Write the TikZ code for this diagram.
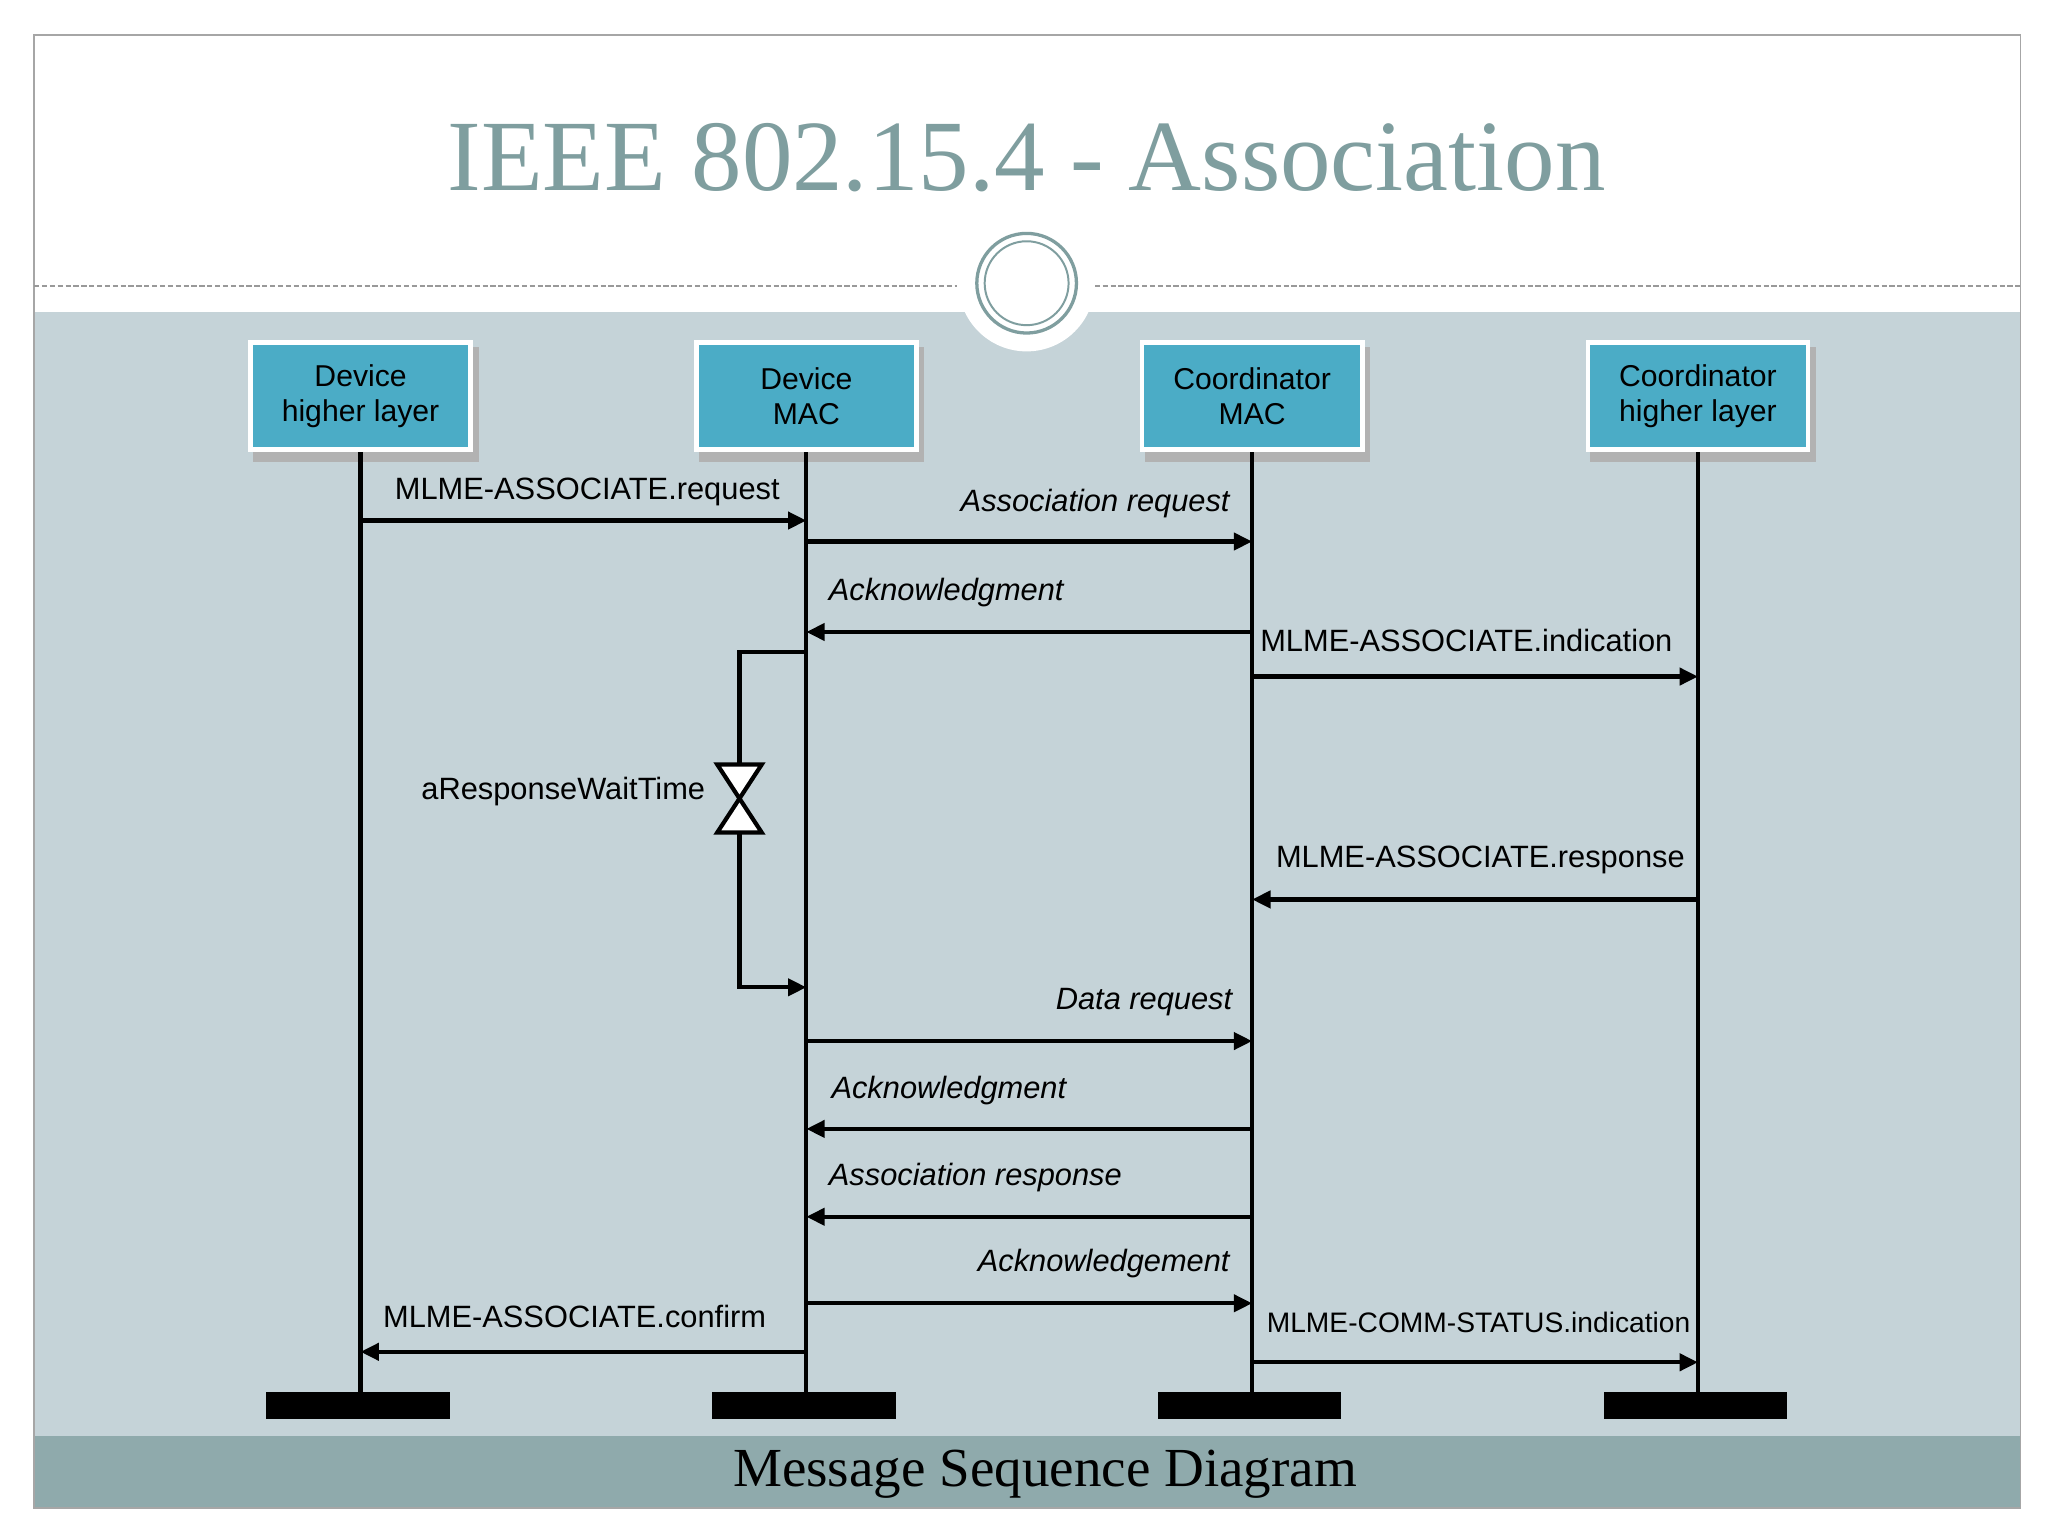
\documentclass[tikz,border=0pt]{standalone}
\usepackage{fontspec}
\setmainfont{Liberation Sans}
\newfontfamily\ser{Liberation Serif}
\usetikzlibrary{arrows.meta}
\definecolor{bg}{HTML}{C5D3D8}
\definecolor{band}{HTML}{8FAAAC}
\definecolor{ttl}{HTML}{7F9E9F}
\definecolor{boxc}{HTML}{4BACC6}
\begin{document}
\begin{tikzpicture}[x=1pt,y=-1pt,
  box/.style={draw=white,line width=3.5pt,fill=boxc,minimum width=168pt,minimum height=82pt,align=center,font=\fontsize{23}{27}\selectfont,inner sep=2pt},
  msg/.style={line width=3.2pt,-{Triangle[length=14pt,width=13pt]}},
  life/.style={line width=3.2pt},
  lab/.style={font=\fontsize{23.5}{27}\selectfont,inner sep=0pt},
  ital/.style={lab,font=\fontsize{23.5}{27}\selectfont\itshape},
  bar/.style={fill=black,minimum width=140pt,minimum height=20pt,inner sep=0pt}]
\useasboundingbox (0,0) rectangle (1562,1171);
\fill[white] (0,0) rectangle (1562,1171);
\fill[bg] (26,238) rectangle (1541,1095);
\fill[band] (26,1095) rectangle (1541,1150);
\draw[gray!70,line width=1.5pt] (26,27) rectangle (1541,1150);
\node[font=\ser\fontsize{77}{86}\selectfont,text=ttl] (title) at (783,120) {IEEE 802.15.4 - Association};
\draw[gray!80,dash pattern=on 4pt off 2pt,line width=1.2pt] (26,218) -- (730,218) (835,218) -- (1541,218);
\node[circle,fill=white,minimum size=104pt,inner sep=0pt] (ring) at (783,216) {};
\draw[ttl,line width=2.5pt] (ring.center) circle (38);
\draw[ttl,line width=1.5pt] (ring.center) circle (32);
\node[font=\ser\fontsize{42}{46}\selectfont] (foot) at (797,1124) {Message Sequence Diagram};
% boxes
\foreach \n/\x/\t in {a/275/{Device\\higher layer},b/615/{Device\\MAC},c/955/{Coordinator\\MAC},d/1295/{Coordinator\\higher layer}}{
  \fill[gray!60] ({\x-82},265) rectangle ({\x+90},352);
  \node[box] (\n) at (\x,302) {\t};
  \node[bar] (\n bar) at ({\x-2},1072) {};
  \draw[life] (\n.south) -- (\n bar.north -| \n.south);
}
% lifeline points
\foreach \n/\x in {a/275,b/615,c/955,d/1295}{
  \foreach \y in {397,413,482,497,516,686,753,794,861,928,994,1031,1039}{
    \coordinate (\n\y) at (\x,\y);}}
\draw[msg] (a397) -- (b397);
\node[lab,anchor=south west] (l1) at (301,386) {MLME-ASSOCIATE.request};
\draw[msg] (b413) -- (c413);
\node[ital,anchor=south east] (l2) at (938,395) {Association request};
\draw[msg] (c482) -- (b482);
\node[ital,anchor=south west] (l3) at (632,463) {Acknowledgment};
\draw[msg] (c516) -- (d516);
\node[lab,anchor=south west] (l4) at (961,497) {MLME-ASSOCIATE.indication};
% timer
\coordinate (t1) at (564,497);
\coordinate (t2) at (564,583);
\coordinate (t3) at (564,635);
\coordinate (t4) at (564,753);
\draw[line width=3.2pt] (b497) -- (t1) -- (t2);
\draw[line width=3.2pt,fill=white] ([xshift=-17pt]t2) -- ([xshift=17pt]t2) -- ([xshift=-17pt]t3) -- ([xshift=17pt]t3) -- cycle;
\draw[msg] (t3) -- (t4) -- (b753);
\node[lab,anchor=east] (l5) at (538,604) {aResponseWaitTime};
\draw[msg] (d686) -- (c686);
\node[lab,anchor=south west] (l6) at (973,667) {MLME-ASSOCIATE.response};
\draw[msg] (b794) -- (c794);
\node[ital,anchor=south east] (l7) at (940,775) {Data request};
\draw[msg] (c861) -- (b861);
\node[ital,anchor=south west] (l8) at (634,843) {Acknowledgment};
\draw[msg] (c928) -- (b928);
\node[ital,anchor=south west] (l9) at (632,909) {Association response};
\draw[msg] (b994) -- (c994);
\node[ital,anchor=south east] (l10) at (938,975) {Acknowledgement};
\draw[msg] (b1031) -- (a1031);
\node[lab,anchor=south west] (l11) at (292,1013) {MLME-ASSOCIATE.confirm};
\draw[msg] (c1039) -- (d1039);
\node[lab,anchor=south west,font=\fontsize{21.5}{25}\selectfont] (l12) at (966,1017) {MLME-COMM-STATUS.indication};
\end{tikzpicture}
\end{document}
